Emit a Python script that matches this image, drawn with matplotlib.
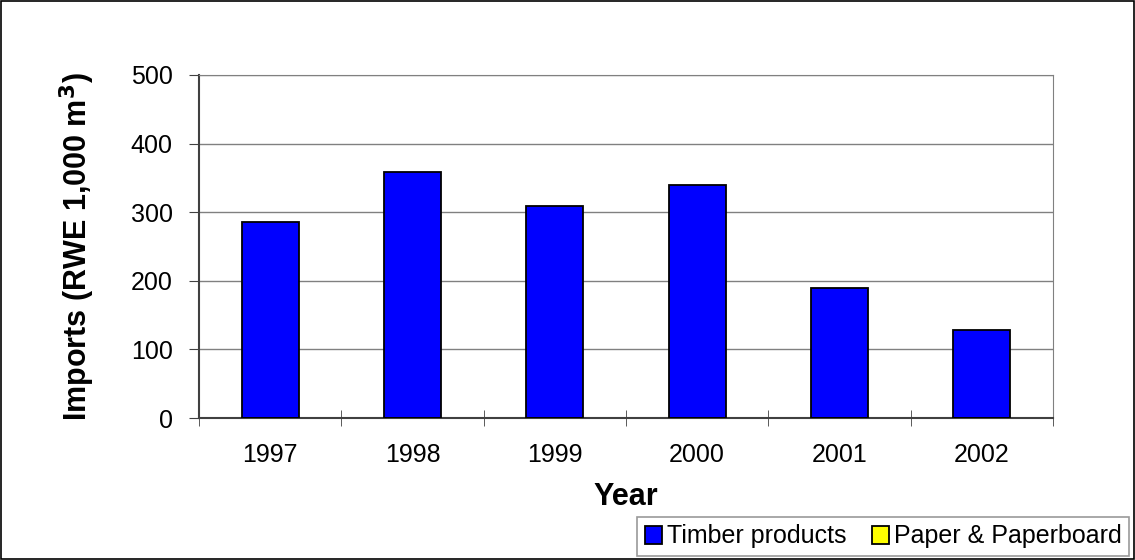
import matplotlib
matplotlib.use("Agg")
import matplotlib.pyplot as plt
from matplotlib.patches import Rectangle

plt.rcParams['font.family'] = ['Liberation Sans', 'DejaVu Sans']

years = ['1997', '1998', '1999', '2000', '2001', '2002']
timber = [286, 359, 309, 339, 190, 129]
paper = [0, 0, 0, 0, 0, 0]

fig = plt.figure(figsize=(11.35, 5.6), dpi=100)
ax = fig.add_axes([199/1135, 1 - 418/560, (1053-199)/1135, (418-75)/560])

x = list(range(len(years)))
ax.bar(x, timber, width=0.4, color='#0000ff', edgecolor='black', linewidth=1.3,
       label='Timber products', zorder=3)
ax.bar(x, paper, width=0.4, color='#ffff00', edgecolor='black', linewidth=1.3,
       label='Paper & Paperboard', zorder=3)

ax.set_xlim(-0.5, len(years) - 0.5)
ax.set_ylim(0, 500)
ax.set_yticks(range(0, 501, 100))
ax.set_xticks(x)
ax.set_xticklabels(years)
ax.tick_params(axis='x', length=0, pad=18, labelsize=18)
ax.set_xticks([i + 0.5 for i in range(-1, len(years))], minor=True)
ax.tick_params(axis='x', which='minor', direction='inout', length=12, color='#404040')
ax.tick_params(axis='y', direction='out', length=7, labelsize=18, color='#404040', pad=12)

ax.grid(axis='y', color='#808080', linewidth=1, zorder=0)
for s in ['top', 'right']:
    ax.spines[s].set_color('#808080')
for s in ['left', 'bottom']:
    ax.spines[s].set_color('#404040')
    ax.spines[s].set_linewidth(1.5)

ax.set_xlabel('Year', fontsize=22, fontweight='bold', labelpad=11)
ax.set_ylabel('Imports (RWE 1,000 m$^\\mathbf{3}$)', fontsize=22, fontweight='bold', labelpad=24)

leg = fig.legend(loc='upper left', bbox_to_anchor=(637/1135, 1 - 517/560), ncol=2, fontsize=18,
                 frameon=True, fancybox=False, handlelength=0.7, handleheight=0.7,
                 handletextpad=0.2, columnspacing=1.0, borderpad=0.3, borderaxespad=0)
leg.get_frame().set_edgecolor('#808080')
leg.get_frame().set_linewidth(1.2)

fig.patches.append(Rectangle((0.001, 0.001), 0.998, 0.997, transform=fig.transFigure,
                             fill=False, edgecolor='black', linewidth=1.2))

fig.savefig('out.png', dpi=100)
